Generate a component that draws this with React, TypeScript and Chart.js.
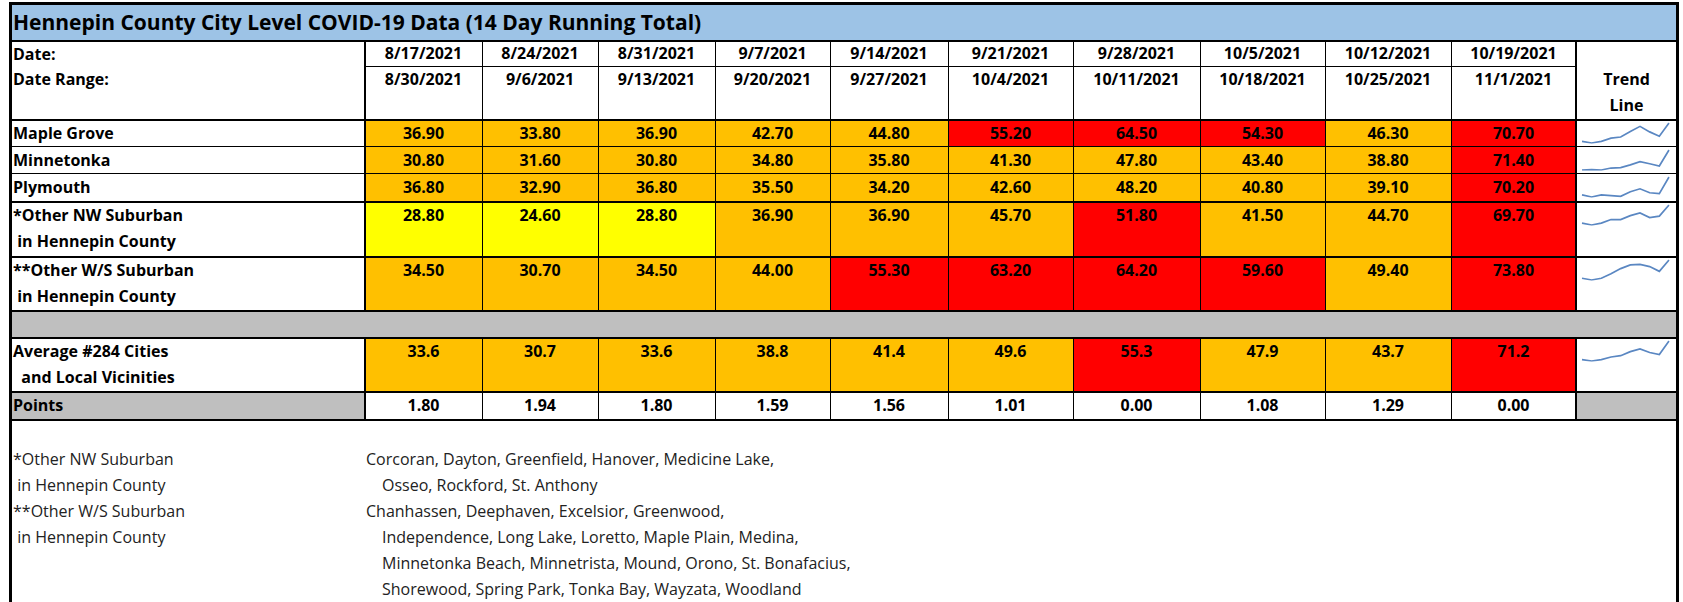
import React, { useEffect, useRef } from "react";
import { Chart, registerables } from "chart.js";

Chart.register(...registerables);

// ---------- data ----------
const titleText = "Hennepin County City Level COVID-19 Data (14 Day Running Total)";
const startDates = ["8/17/2021", "8/24/2021", "8/31/2021", "9/7/2021", "9/14/2021", "9/21/2021", "9/28/2021", "10/5/2021", "10/12/2021", "10/19/2021"];
const endDates = ["8/30/2021", "9/6/2021", "9/13/2021", "9/20/2021", "9/27/2021", "10/4/2021", "10/11/2021", "10/18/2021", "10/25/2021", "11/1/2021"];

const mapleGrove = [36.9, 33.8, 36.9, 42.7, 44.8, 55.2, 64.5, 54.3, 46.3, 70.7];
const minnetonka = [30.8, 31.6, 30.8, 34.8, 35.8, 41.3, 47.8, 43.4, 38.8, 71.4];
const plymouth = [36.8, 32.9, 36.8, 35.5, 34.2, 42.6, 48.2, 40.8, 39.1, 70.2];
const otherNW = [28.8, 24.6, 28.8, 36.9, 36.9, 45.7, 51.8, 41.5, 44.7, 69.7];
const otherWS = [34.5, 30.7, 34.5, 44.0, 55.3, 63.2, 64.2, 59.6, 49.4, 73.8];
const average284 = [33.6, 30.7, 33.6, 38.8, 41.4, 49.6, 55.3, 47.9, 43.7, 71.2];
const points = [1.8, 1.94, 1.8, 1.59, 1.56, 1.01, 0.0, 1.08, 1.29, 0.0];

const footLeft = ["*Other NW Suburban", " in Hennepin County", "**Other W/S Suburban", " in Hennepin County"];
const footRight = [
  "Corcoran, Dayton, Greenfield, Hanover, Medicine Lake,",
  "Osseo, Rockford, St. Anthony",
  "Chanhassen, Deephaven, Excelsior, Greenwood,",
  "Independence, Long Lake, Loretto, Maple Plain, Medina,",
  "Minnetonka Beach, Minnetrista, Mound, Orono, St. Bonafacius,",
  "Shorewood, Spring Park, Tonka Bay, Wayzata, Woodland",
];
const footRightIndent = [false, true, false, true, true, true];

// ---------- layout ----------
const COLS = [11, 365, 482, 598, 715, 830, 948, 1073, 1200, 1325, 1451, 1576, 1677];
const FONT = "'Open Sans', 'DejaVu Sans', sans-serif";
const BODY_PX = 16;
const FOOT_PX = 16;
const ORANGE = "#FFC000";
const RED = "#FF0000";
const YELLOW = "#FFFF00";
const GRAY = "#BFBFBF";
const BLUE = "#9DC3E6";
const SPARK = "#5A87C2";

function cellColor(v: number) {
  if (v >= 50) return RED;
  if (v >= 30) return ORANGE;
  return YELLOW;
}

type Row = { label: string[]; values: number[]; top: number; bottom: number; digits: number };

const dataRows: Row[] = [
  { label: ["Maple Grove"], values: mapleGrove, top: 120, bottom: 147, digits: 2 },
  { label: ["Minnetonka"], values: minnetonka, top: 147, bottom: 174, digits: 2 },
  { label: ["Plymouth"], values: plymouth, top: 174, bottom: 202, digits: 2 },
  { label: ["*Other NW Suburban", " in Hennepin County"], values: otherNW, top: 202, bottom: 257, digits: 2 },
  { label: ["**Other W/S Suburban", " in Hennepin County"], values: otherWS, top: 257, bottom: 311, digits: 2 },
  { label: ["Average #284 Cities", "  and Local Vicinities"], values: average284, top: 338, bottom: 392, digits: 1 },
];

function Spark({ values, left, top, width, height }: { values: number[]; left: number; top: number; width: number; height: number }) {
  const ref = useRef<HTMLCanvasElement | null>(null);
  useEffect(() => {
    if (!ref.current) return;
    const chart = new Chart(ref.current, {
      type: "line",
      data: {
        labels: values.map((_, i) => String(i)),
        datasets: [
          {
            data: values,
            borderColor: SPARK,
            borderWidth: 1.7,
            pointRadius: 0,
            tension: 0,
            fill: false,
          },
        ],
      },
      options: {
        animation: false,
        responsive: false,
        maintainAspectRatio: false,
        devicePixelRatio: 1,
        layout: { padding: { top: 2, bottom: 2, left: 1, right: 1 } },
        plugins: { legend: { display: false }, tooltip: { enabled: false } },
        scales: {
          x: { display: false, offset: false },
          y: { display: false, bounds: "data", grace: 0 },
        },
      },
    });
    return () => chart.destroy();
  }, [values]);
  return <canvas ref={ref} width={width} height={height} style={{ position: "absolute", left, top, width, height }} />;
}

function Rect({ x, y, w, h, bg }: { x: number; y: number; w: number; h: number; bg: string }) {
  return <div style={{ position: "absolute", left: x, top: y, width: w, height: h, background: bg }} />;
}

function Txt({ x, y, w, text, align, bold, size, color }: { x: number; y: number; w?: number; text: string; align?: "left" | "center"; bold?: boolean; size?: number; color?: string }) {
  return (
    <div
      style={{
        position: "absolute",
        left: x,
        top: y,
        width: w,
        height: 27,
        lineHeight: "27px",
        fontFamily: FONT,
        fontSize: size ?? BODY_PX,
        fontWeight: bold === false ? 400 : 700,
        textAlign: align ?? "left",
        whiteSpace: "pre",
        color: color ?? "#000",
      }}
    >
      {text}
    </div>
  );
}

export default function App() {
  const els: React.ReactNode[] = [];
  let k = 0;
  const L = COLS[0];
  const R = COLS[COLS.length - 1];
  const trendL = COLS[COLS.length - 2];

  // backgrounds
  els.push(<Rect key={k++} x={L} y={3} w={R - L} h={599} bg="#fff" />);
  els.push(<Rect key={k++} x={L} y={3} w={R - L} h={38} bg={BLUE} />);
  els.push(<Rect key={k++} x={L} y={311} w={R - L} h={27} bg={GRAY} />);
  els.push(<Rect key={k++} x={L} y={392} w={COLS[1] - L} h={28} bg={GRAY} />);
  els.push(<Rect key={k++} x={trendL} y={392} w={R - trendL} h={28} bg={GRAY} />);
  dataRows.forEach((r) => {
    r.values.forEach((v, i) => {
      els.push(<Rect key={k++} x={COLS[i + 1]} y={r.top} w={COLS[i + 2] - COLS[i + 1]} h={r.bottom - r.top} bg={cellColor(v)} />);
    });
  });

  // lines
  const hl = (y: number, x0: number, x1: number, t: number) => els.push(<Rect key={k++} x={x0} y={y} w={x1 - x0} h={t} bg="#000" />);
  const vl = (x: number, y0: number, y1: number, t: number) => els.push(<Rect key={k++} x={x} y={y0} w={t} h={y1 - y0} bg="#000" />);
  hl(2, L - 2, R + 2, 3);
  hl(40, L, R, 2);
  hl(66, COLS[1], trendL, 1);
  hl(119, L, R, 2);
  hl(146, L, R, 1);
  hl(173, L, R, 1);
  hl(201, L, R, 2);
  hl(256, L, R, 2);
  hl(310, L, R, 2);
  hl(337, L, R, 2);
  hl(391, L, R, 2);
  hl(419, L, R, 2);
  for (let i = 1; i < COLS.length - 1; i++) {
    const t = i === 1 || i === COLS.length - 2 ? 2 : 1;
    vl(COLS[i] - (t === 2 ? 1 : 0), 41, 310, t);
    vl(COLS[i] - (t === 2 ? 1 : 0), 338, 420, t);
  }
  vl(L - 2, 2, 602, 3);
  vl(R - 1, 2, 602, 3);

  // title
  els.push(
    <div key={k++} style={{ position: "absolute", left: 13, top: 5, height: 35, lineHeight: "35px", fontFamily: FONT, fontWeight: 700, fontSize: 21, whiteSpace: "pre" }}>
      {titleText}
    </div>
  );

  // header
  els.push(<Txt key={k++} x={13} y={41} text="Date:" />);
  els.push(<Txt key={k++} x={13} y={66} text="Date Range:" />);
  startDates.forEach((d, i) => {
    els.push(<Txt key={k++} x={COLS[i + 1]} w={COLS[i + 2] - COLS[i + 1]} y={40} text={d} align="center" />);
    els.push(<Txt key={k++} x={COLS[i + 1]} w={COLS[i + 2] - COLS[i + 1]} y={66} text={endDates[i]} align="center" />);
  });
  els.push(<Txt key={k++} x={trendL} w={R - trendL} y={66} text="Trend" align="center" />);
  els.push(<Txt key={k++} x={trendL} w={R - trendL} y={92} text="Line" align="center" />);

  // data rows
  dataRows.forEach((r) => {
    r.label.forEach((t, j) => {
      els.push(<Txt key={k++} x={13} y={r.top + j * 26} text={t} />);
    });
    r.values.forEach((v, i) => {
      els.push(<Txt key={k++} x={COLS[i + 1]} w={COLS[i + 2] - COLS[i + 1]} y={r.top} text={v.toFixed(r.digits)} align="center" />);
    });
    els.push(<Spark key={k++} values={r.values} left={trendL + 5} top={r.top + 1} width={R - trendL - 12} height={24} />);
  });

  // points row
  els.push(<Txt key={k++} x={13} y={392} text="Points" />);
  points.forEach((v, i) => {
    els.push(<Txt key={k++} x={COLS[i + 1]} w={COLS[i + 2] - COLS[i + 1]} y={392} text={v.toFixed(2)} align="center" />);
  });

  // footer
  const footY = [446, 472, 498, 524, 550, 576];
  footLeft.forEach((t, i) => {
    els.push(<Txt key={k++} x={13} y={footY[i]} text={t} bold={false} size={FOOT_PX} color="#222" />);
  });
  footRight.forEach((t, i) => {
    els.push(<Txt key={k++} x={footRightIndent[i] ? 382 : 366} y={footY[i]} text={t} bold={false} size={FOOT_PX} color="#222" />);
  });

  return (
    <div style={{ position: "fixed", left: 0, top: 0, width: 1683, height: 602, background: "#fff", overflow: "hidden" }}>
      {els}
    </div>
  );
}
